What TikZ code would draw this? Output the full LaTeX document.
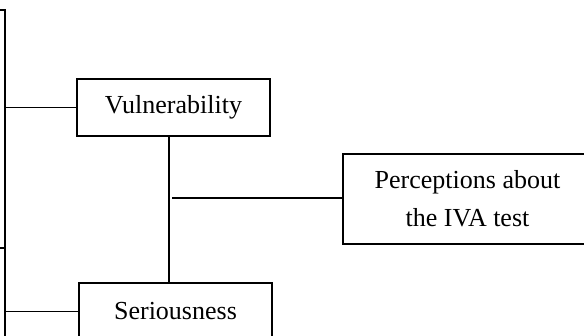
\documentclass[tikz,border=0pt]{standalone}
\usepackage{fontspec}
\setmainfont{Liberation Serif}
\begin{document}
\begin{tikzpicture}[x=1pt,y=-1pt,
  boxnode/.style={draw,line width=2.6pt,rectangle,inner sep=0pt,align=center,
    font=\fontsize{26}{38}\selectfont},
  conn/.style={line width=1.8pt}]
\useasboundingbox (0,0) rectangle (584,336);
\clip (0,0) rectangle (584,336);
% cut-off boxes on the left
\node[boxnode,minimum width=200pt,minimum height=238pt] (A) at (-95,129) {};
\node[boxnode,minimum width=200pt,minimum height=150pt] (B) at (-95,323) {};
% main boxes
\node[boxnode,minimum width=193pt,minimum height=57pt] (V) at (173.5,107.5) {Vulnerability};
\node[boxnode,minimum width=193pt,minimum height=57pt] (S) at (175.5,311.5) {Seriousness};
\node[boxnode,minimum width=249pt,minimum height=90pt] (P) at (467.5,199) {Perceptions about\\the IVA test};
% connectors
\draw[conn] (A.east |- V.west) -- (V.west);
\draw[conn] (B.east |- S.west) -- (S.west);
\coordinate (vt) at ([xshift=-4.5pt]V.south);
\draw[conn] (vt) -- (vt |- S.north);
\coordinate (j) at (172,198);
\draw[conn] (j) -- (j -| P.west);
\end{tikzpicture}
\end{document}
